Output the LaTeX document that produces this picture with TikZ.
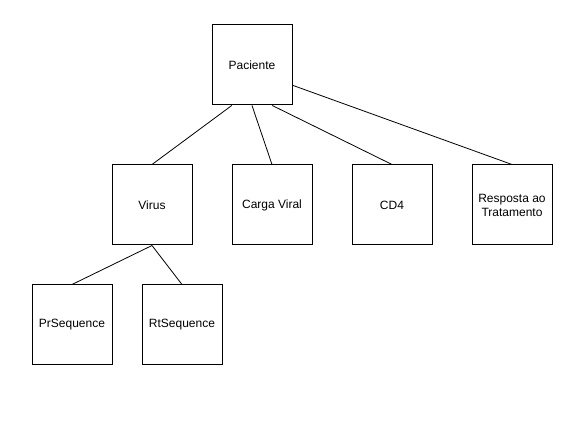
\documentclass[tikz,border=0pt]{standalone}
\usepackage{fontspec}
\setmainfont{Liberation Sans}
\usetikzlibrary{calc}
\begin{document}
\begin{tikzpicture}[x=1pt,y=-1pt,
  box/.style={draw=black,line width=1pt,minimum width=80pt,minimum height=80pt,inner sep=0pt,align=center,font=\fontsize{12pt}{14pt}\selectfont},
  link/.style={draw=black,line width=0.8pt}]
\useasboundingbox (0,0) rectangle (574,427);
\node[box] (pac) at (252,65) {Paciente};
\node[box] (vir) at (152,205) {Virus};
\node[box] (cv) at (272,205) {Carga Viral};
\node[box] (cd4) at (392,205) {CD4};
\node[box] (res) at (512,205) {Resposta ao\\Tratamento};
\node[box] (pr) at (72,325) {PrSequence};
\node[box] (rt) at (182,325) {RtSequence};
\draw[link] ($(pac.south west)!.25!(pac.south east)$) -- (vir.north);
\draw[link] (pac.south) -- (cv.north);
\draw[link] ($(pac.south west)!.75!(pac.south east)$) -- (cd4.north);
\draw[link] ($(pac.north east)!.75!(pac.south east)$) -- (res.north);
\draw[link] (vir.south) -- (pr.north);
\draw[link] (vir.south) -- (rt.north);
\end{tikzpicture}
\end{document}
